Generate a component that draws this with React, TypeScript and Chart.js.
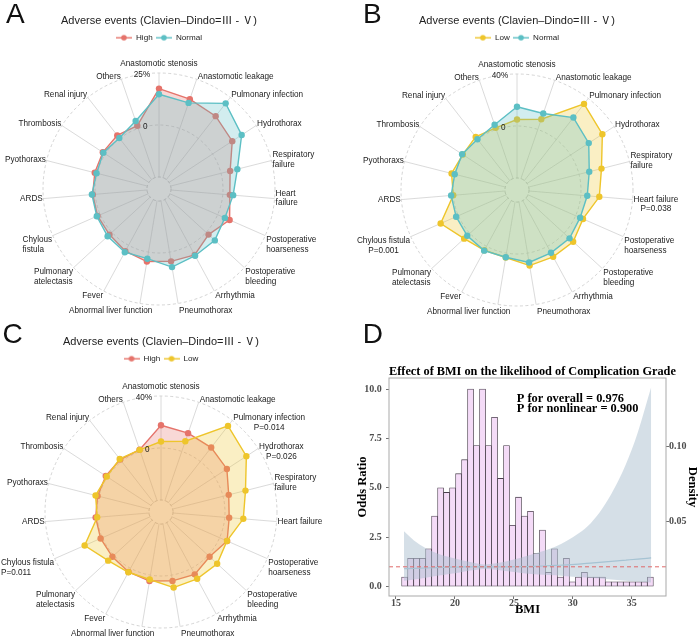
import React, { useEffect, useRef } from 'react';
import { Chart, registerables } from 'chart.js';

Chart.register(...registerables);

const SANS = '"Liberation Sans", Arial, "Noto Sans CJK SC", sans-serif';
const SERIF = '"Liberation Serif", "Times New Roman", serif';

// ---------- radar panels: complication rates (%) by BMI group ----------
const RADAR_TITLE = 'Adverse events (Clavien–Dindo=Ⅲ - Ⅴ)';

const highRate = [17.5, 14.9, 13.6, 11.3, 4.5, 3.4, 6.3, 1.6, 5.3, 4.5, 4.6, 3.2, 1.6, 1.5, 1.2, 1.1, 1.5, 1.9, 1.4];
const normalRate = [14.8, 13.0, 21.4, 16.7, 8.1, 5.0, 3.8, 5.7, 5.7, 7.3, 3.2, 3.8, 2.8, 1.9, 1.6, 0.2, 1.2, 0.3, 3.8];
const lowRate = [5.0, 8.3, 34.7, 29.2, 17.8, 14.3, 6.2, 9.5, 9.2, 9.7, 3.4, 3.5, 6.0, 14.9, 0.0, 2.7, 0.6, 2.5, 1.3];

const eventsA = [
  'Anastomotic stenosis', 'Anastomotic leakage', 'Pulmonary infection', 'Hydrothorax',
  ['Respiratory', 'failure'], ['Heart', 'failure'], ['Postoperative', 'hoarseness'],
  ['Postoperative', 'bleeding'], 'Arrhythmia', 'Pneumothorax', 'Abnormal liver function',
  'Fever', ['Pulmonary', 'atelectasis'], ['Chylous', 'fistula'], 'ARDS', 'Pyothoraxs',
  'Thrombosis', 'Renal injury', 'Others',
];
const eventsB = [
  'Anastomotic stenosis', 'Anastomotic leakage', 'Pulmonary infection', 'Hydrothorax',
  ['Respiratory', 'failure'], ['Heart failure', 'P=0.038'], ['Postoperative', 'hoarseness'],
  ['Postoperative', 'bleeding'], 'Arrhythmia', 'Pneumothorax', 'Abnormal liver function',
  'Fever', ['Pulmonary', 'atelectasis'], ['Chylous fistula', 'P=0.001'], 'ARDS', 'Pyothoraxs',
  'Thrombosis', 'Renal injury', 'Others',
];
const eventsC = [
  'Anastomotic stenosis', 'Anastomotic leakage', ['Pulmonary infection', 'P=0.014'],
  ['Hydrothorax', 'P=0.026'], ['Respiratory', 'failure'], 'Heart failure',
  ['Postoperative', 'hoarseness'], ['Postoperative', 'bleeding'], 'Arrhythmia', 'Pneumothorax',
  'Abnormal liver function', 'Fever', ['Pulmonary', 'atelectasis'], ['Chylous fistula', 'P=0.011'],
  'ARDS', 'Pyothoraxs', 'Thrombosis', 'Renal injury', 'Others',
];

// ---------- BMI panel ----------
const bmiBins = [
  15.734, 16.242, 16.750, 17.259, 17.767, 18.275, 18.784, 19.292, 19.800, 20.309,
  20.817, 21.325, 21.834, 22.342, 22.850, 23.359, 23.867, 24.375, 24.884, 25.392,
  25.900, 26.409, 26.917, 27.425, 27.934, 28.442, 28.950, 29.459, 29.967, 30.475,
  30.984, 31.492, 32.000, 32.509, 33.017, 33.525, 34.034, 34.542, 35.050, 35.559,
  36.067, 36.575,
];
const bmiHeights = [
  0.48, 1.43, 1.43, 1.43, 1.91, 3.57, 5.00, 4.77, 5.00, 5.72,
  6.43, 10.01, 7.15, 10.01, 7.15, 8.58, 5.48, 7.15, 3.10, 4.53,
  3.57, 3.81, 1.67, 2.86, 0.72, 1.91, 0.48, 1.43, 0.24, 0.48,
  0.72, 0.48, 0.48, 0.48, 0.24, 0.24, 0.24, 0.24, 0.24, 0.24,
  0.24, 0.48,
];
const rcsBmi = [15.68, 16.5, 17.5, 18.5, 19.5, 20.5, 21.5, 22.5, 23.5, 24.5, 25.5, 26.5, 27.5, 28.5, 29.5, 30.5, 31.5, 32.5, 33.5, 34.5, 35.5, 36.64];
const rcsOr = [0.90, 0.92, 0.94, 0.96, 0.98, 0.99, 1.00, 1.00, 1.00, 1.00, 1.01, 1.02, 1.04, 1.07, 1.10, 1.14, 1.19, 1.24, 1.29, 1.34, 1.39, 1.45];
const rcsUpper = [2.80, 2.35, 1.95, 1.68, 1.50, 1.35, 1.22, 1.12, 1.18, 1.30, 1.45, 1.62, 1.80, 2.02, 2.32, 2.70, 3.20, 3.95, 4.95, 6.20, 7.80, 10.10];
const rcsLower = [0.29, 0.36, 0.45, 0.55, 0.64, 0.73, 0.82, 0.89, 0.85, 0.77, 0.70, 0.64, 0.60, 0.57, 0.52, 0.48, 0.44, 0.39, 0.34, 0.29, 0.25, 0.21];
const bmiTicks = [15, 20, 25, 30, 35];
const orTicks = [0, 2.5, 5, 7.5, 10];
const densityTicks = [0.05, 0.1];
const pNotes = ['P for overall = 0.976', 'P for nonlinear = 0.900'];

const RED = '#E5736B';
const TEAL = '#5CBFC4';
const YELLOW = '#EEC52B';
const GRID = '#c9c9c9';

function withAlpha(hex: string, a: number) {
  const v = parseInt(hex.slice(1), 16);
  return `rgba(${(v >> 16) & 255},${(v >> 8) & 255},${v & 255},${a})`;
}

function legendMarker(color: string) {
  const c = document.createElement('canvas');
  c.width = 16;
  c.height = 8;
  const g = c.getContext('2d')!;
  g.strokeStyle = color;
  g.lineWidth = 1.4;
  g.beginPath();
  g.moveTo(0, 4);
  g.lineTo(16, 4);
  g.stroke();
  g.fillStyle = color;
  g.beginPath();
  g.arc(8, 4, 2.8, 0, Math.PI * 2);
  g.fill();
  return c;
}

// Inner hole, tick labels and category labels around the radar.
const radarDecor = {
  id: 'radarDecor',
  beforeDatasetsDraw(chart: any) {
    const s = chart.scales.r;
    const ctx = chart.ctx;
    const r0 = s.getDistanceFromCenterForValue(s.ticks[0].value);
    ctx.save();
    ctx.beginPath();
    ctx.arc(s.xCenter, s.yCenter, r0 - 0.5, 0, Math.PI * 2);
    ctx.fillStyle = '#fff';
    ctx.fill();
    ctx.beginPath();
    ctx.setLineDash([3, 2.5]);
    ctx.arc(s.xCenter, s.yCenter, r0, 0, Math.PI * 2);
    ctx.strokeStyle = GRID;
    ctx.lineWidth = 0.8;
    ctx.stroke();
    ctx.restore();
  },
  afterDatasetsDraw(chart: any, _args: any, opts: any) {
    const s = chart.scales.r;
    const ctx = chart.ctx;
    const labels = chart.data.labels;
    const n = labels.length;
    const lh = opts.lineHeight;
    ctx.save();
    ctx.font = `${opts.size}px ${SANS}`;
    ctx.fillStyle = opts.color;
    ctx.textBaseline = 'middle';
    ctx.textAlign = 'left';

    labels.forEach((label: any, i: number) => {
      const lines: string[] = Array.isArray(label) ? label : [label];
      const hasP = lines.length > 1 && lines[lines.length - 1].startsWith('P=');
      const main = hasP ? lines.slice(0, -1) : lines;
      const theta = (2 * Math.PI * i) / n;
      const sn = Math.sin(theta);
      const cs = Math.cos(theta);
      const p = s.getPointPosition(i, s.drawingArea);
      const widths = lines.map((t) => ctx.measureText(t).width);
      const blockW = Math.max(...widths);
      let left: number;
      if (Math.abs(sn) < 0.05) left = p.x - blockW / 2;
      else if (sn > 0) left = p.x + 1;
      else left = p.x - 0.6 - blockW;
      left += (opts.nudge && opts.nudge[i]) || 0;
      let firstY: number;
      if (cs > 0.95) firstY = p.y - 9.7 - (main.length - 1) * lh;
      else if (cs >= -0.3) firstY = p.y - 0.5 - 2.5 * cs - ((main.length - 1) * lh) / 2;
      else firstY = p.y + (cs < -0.95 ? 2 : -0.5) + lh / 2;
      lines.forEach((t, j) => {
        const x = opts.centerLines.includes(i) ? left + (blockW - widths[j]) / 2 : left;
        ctx.fillText(t, x, firstY + j * lh);
      });
    });

    // value labels beside the vertical spoke
    ctx.textAlign = 'right';
    const rMid = s.getDistanceFromCenterForValue(0);
    const rMax = s.getDistanceFromCenterForValue(s.max);
    ctx.fillText('0', s.xCenter - 11.5, s.yCenter - rMid + 2);
    ctx.fillText(`${s.max}%`, s.xCenter - 8.8, s.yCenter - rMax + 2);
    ctx.restore();
  },
};

type Series = { label: string; data: number[]; color: string };
type RadarPanel = {
  key: string; left: number; top: number; width: number; height: number;
  pad: number; bottom: number; max: number; labels: any[]; series: Series[]; centerLines: number[];
};

const radarPanels: RadarPanel[] = [
  {
    key: 'A', left: 0, top: 0, width: 318, height: 330, pad: 43, bottom: 3.35, max: 25,
    labels: eventsA, centerLines: [],
    series: [{ label: 'High', data: highRate, color: RED }, { label: 'Normal', data: normalRate, color: TEAL }],
  },
  {
    key: 'B', left: 352, top: 0, width: 330, height: 332, pad: 49, bottom: 3.35, max: 40,
    labels: eventsB, centerLines: [5, 13],
    series: [{ label: 'Low', data: lowRate, color: YELLOW }, { label: 'Normal', data: normalRate, color: TEAL }],
  },
  {
    key: 'C', left: 0, top: 321, width: 322, height: 335, pad: 45, bottom: 3.75, max: 40,
    labels: eventsC, centerLines: [2, 3],
    series: [{ label: 'High', data: highRate, color: RED }, { label: 'Low', data: lowRate, color: YELLOW }],
  },
];

function makeRadar(canvas: HTMLCanvasElement, p: RadarPanel) {
  const markers = p.series.map((s) => legendMarker(s.color));
  const min = -p.max * (1 + 12 / 52);
  return new Chart(canvas, {
    type: 'radar',
    data: {
      labels: p.labels,
      datasets: p.series.map((s, i) => ({
        label: s.label,
        data: s.data,
        borderColor: s.color,
        backgroundColor: withAlpha(s.color, 0.28),
        borderWidth: 1.4,
        pointRadius: 3.2,
        pointHoverRadius: 3.2,
        pointBackgroundColor: s.color,
        pointBorderWidth: 0,
        fill: 'start',
        order: i === 0 ? 1 : 0,
      })),
    },
    options: {
      responsive: false,
      animation: false,
      layout: { padding: { left: p.pad, right: p.pad, top: 0, bottom: p.bottom } },
      elements: { line: { tension: 0 } },
      plugins: {
        title: {
          display: true,
          text: RADAR_TITLE,
          color: '#222',
          font: { family: SANS, size: 11, weight: 'normal', lineHeight: 1.2 },
          padding: { top: 14.1, bottom: 3.05 },
        },
        legend: {
          display: true,
          position: 'top',
          labels: {
            usePointStyle: true,
            pointStyleWidth: 16,
            boxHeight: 8,
            padding: 3.3,
            color: '#222',
            font: { family: SANS, size: 8.1 },
            generateLabels: (chart: any) =>
              chart.data.datasets.map((ds: any, i: number) => ({
                text: ds.label,
                pointStyle: markers[i],
                datasetIndex: i,
                fillStyle: ds.borderColor,
                strokeStyle: ds.borderColor,
                lineWidth: 0,
                hidden: false,
                fontColor: '#222',
              })),
          },
        },
        tooltip: { enabled: false },
        radarDecor: { size: 8.2, lineHeight: 9.7, color: '#222', centerLines: p.centerLines, nudge: { 10: 13 } },
      } as any,
      scales: {
        r: {
          min,
          max: p.max,
          afterBuildTicks: (s: any) => {
            s.ticks = [{ value: -p.max }, { value: 0 }, { value: p.max }];
          },
          ticks: { display: false },
          pointLabels: { display: false },
          grid: { circular: true, color: GRID, lineWidth: 0.8 },
          border: { dash: [3, 2.5] },
          angleLines: { color: '#d0d0d0', lineWidth: 0.8 },
        } as any,
      },
    },
    plugins: [radarDecor as any],
  });
}

// Frame round the plot area, plus title and P-value notes.
const plotText = {
  id: 'plotText',
  afterDatasetsDraw(chart: any, _args: any, opts: any) {
    const { ctx, chartArea: a } = chart;
    ctx.save();
    ctx.strokeStyle = '#a9a9a9';
    ctx.lineWidth = 1;
    ctx.strokeRect(a.left, a.top, a.right - a.left, a.bottom - a.top);
    ctx.restore();
  },
  afterDraw(chart: any, _args: any, opts: any) {
    const { ctx, chartArea: a, scales } = chart;
    ctx.save();
    ctx.fillStyle = '#000';
    ctx.textAlign = 'left';
    ctx.textBaseline = 'middle';
    ctx.font = `bold 12.3px ${SERIF}`;
    ctx.fillText(opts.title, a.left, a.top - 6.3);
    ctx.font = `bold 12.4px ${SERIF}`;
    opts.notes.forEach((t: string, i: number) => {
      ctx.fillText(t, scales.x.getPixelForValue(opts.noteX), scales.y.getPixelForValue(opts.noteY[i]));
    });
    ctx.restore();
  },
};

const X_MIN = 14.41;
const X_MAX = 37.9;

function makeRcs(canvas: HTMLCanvasElement) {
  const tickFont = { family: SERIF, size: 10, weight: 'bold', lineHeight: 1 };
  const titleFont = { family: SERIF, size: 12.5, weight: 'bold', lineHeight: 1 };
  const tickGrid = { drawOnChartArea: false, tickLength: 3, color: '#4d4d4d', lineWidth: 0.8, offset: false };
  return new Chart(canvas, {
    type: 'bar',
    data: {
      datasets: [
        {
          type: 'bar',
          label: 'BMI',
          data: bmiBins.map((b, i) => ({ x: b, y: bmiHeights[i] })),
          backgroundColor: '#f4dbf7',
          borderColor: '#4a3f4d',
          borderWidth: 0.8,
          borderSkipped: false,
          barPercentage: 1,
          categoryPercentage: 1,
          order: 4,
        },
        {
          type: 'line',
          label: 'lower',
          data: rcsBmi.map((b, i) => ({ x: b, y: rcsLower[i] })),
          borderColor: 'rgba(0,0,0,0)',
          pointRadius: 0,
          fill: false,
          cubicInterpolationMode: 'monotone',
          order: 3,
        },
        {
          type: 'line',
          label: 'upper',
          data: rcsBmi.map((b, i) => ({ x: b, y: rcsUpper[i] })),
          borderColor: 'rgba(0,0,0,0)',
          backgroundColor: 'rgba(172,192,208,0.5)',
          pointRadius: 0,
          fill: '-1',
          cubicInterpolationMode: 'monotone',
          order: 2,
        },
        {
          type: 'line',
          label: 'OR',
          data: rcsBmi.map((b, i) => ({ x: b, y: rcsOr[i] })),
          borderColor: '#a6c3d3',
          borderWidth: 1.2,
          pointRadius: 0,
          fill: false,
          cubicInterpolationMode: 'monotone',
          order: 1,
        },
        {
          type: 'line',
          label: 'reference',
          data: [{ x: X_MIN, y: 1 }, { x: X_MAX, y: 1 }],
          borderColor: '#e06a6a',
          borderWidth: 1,
          borderDash: [4, 3],
          pointRadius: 0,
          fill: false,
          order: 0,
        },
      ] as any,
    },
    options: {
      responsive: false,
      animation: false,
      layout: { padding: { top: 38, bottom: 14, left: 0, right: 0 } },
      plugins: {
        legend: { display: false },
        title: { display: false },
        tooltip: { enabled: false },
        plotText: {
          title: 'Effect of BMI on the likelihood of Complication Grade',
          notes: pNotes,
          noteX: 25.25,
          noteY: [9.5, 9.02],
        },
      } as any,
      scales: {
        x: {
          type: 'linear',
          min: X_MIN,
          max: X_MAX,
          offset: false,
          afterBuildTicks: (s: any) => {
            s.ticks = bmiTicks.map((v) => ({ value: v }));
          },
          afterFit: (s: any) => {
            s.height = 20;
          },
          grid: tickGrid,
          border: { display: false },
          ticks: { font: tickFont, color: '#4d4d4d', padding: -0.5, maxRotation: 0, callback: (v: any) => `${v}` },
          title: { display: true, text: 'BMI', color: '#000', font: titleFont, padding: { top: 0, bottom: 0 } },
        },
        y: {
          position: 'left',
          min: -0.48,
          max: 10.57,
          afterBuildTicks: (s: any) => {
            s.ticks = orTicks.map((v) => ({ value: v }));
          },
          afterFit: (s: any) => {
            s.width = 39;
          },
          grid: tickGrid,
          border: { display: false },
          ticks: { font: tickFont, color: '#4d4d4d', padding: 4.3, callback: (v: any) => Number(v).toFixed(1) },
          title: { display: true, text: 'Odds Ratio', color: '#000', font: titleFont, padding: { top: 7, bottom: 0 } },
        },
        y2: {
          position: 'right',
          min: 0,
          max: 0.1455,
          afterBuildTicks: (s: any) => {
            s.ticks = densityTicks.map((v) => ({ value: v }));
          },
          afterFit: (s: any) => {
            s.width = 33;
          },
          grid: tickGrid,
          border: { display: false },
          ticks: { font: tickFont, color: '#4d4d4d', padding: 0, callback: (v: any) => Number(v).toFixed(2) },
          title: { display: true, text: 'Density', color: '#000', font: titleFont, padding: { top: 1, bottom: 0 } },
        },
      } as any,
    },
    plugins: [plotText as any],
  });
}

const letters = [
  { t: 'A', left: 6, top: 0 },
  { t: 'B', left: 363, top: 0 },
  { t: 'C', left: 2.6, top: 320.3 },
  { t: 'D', left: 362.8, top: 319.6 },
];

export default function App() {
  const radarRefs = useRef<(HTMLCanvasElement | null)[]>([]);
  const rcsRef = useRef<HTMLCanvasElement | null>(null);

  useEffect(() => {
    const charts: Chart[] = [];
    radarPanels.forEach((p, i) => {
      const c = radarRefs.current[i];
      if (c) charts.push(makeRadar(c, p));
    });
    if (rcsRef.current) charts.push(makeRcs(rcsRef.current));
    return () => charts.forEach((c) => c.destroy());
  }, []);

  return (
    <div style={{ position: 'absolute', left: 0, top: 0, width: 699, height: 639, overflow: 'hidden', background: '#fff' }}>
      {radarPanels.map((p, i) => (
        <canvas
          key={p.key}
          ref={(el) => {
            radarRefs.current[i] = el;
          }}
          width={p.width}
          height={p.height}
          style={{ position: 'absolute', left: p.left, top: p.top }}
        />
      ))}
      <canvas ref={rcsRef} width={349} height={290} style={{ position: 'absolute', left: 350, top: 340 }} />
      {letters.map((l) => (
        <div
          key={l.t}
          style={{
            position: 'absolute', left: l.left, top: l.top, fontFamily: SANS, fontSize: 28,
            lineHeight: '28px', color: '#111',
          }}
        >
          {l.t}
        </div>
      ))}
    </div>
  );
}
